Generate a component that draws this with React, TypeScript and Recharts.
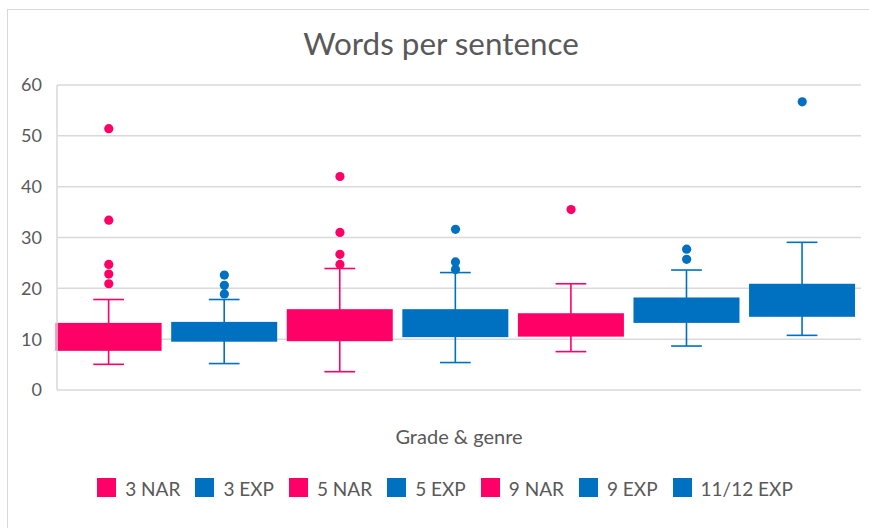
import React from 'react';
import { ComposedChart, Bar, Scatter, XAxis, YAxis, CartesianGrid } from 'recharts';

const W = 869;
const H = 528;
const PINK = '#FF0066';
const BLUE = '#0070C0';
const TEXT = '#595959';
const GRID = '#d9d9d9';
const FONT = 'Lato, "Open Sans", sans-serif';

// categories and five-number summaries
const categories = ['3 NAR', '3 EXP', '5 NAR', '5 EXP', '9 NAR', '9 EXP', '11/12 EXP'];
const genres = ['NAR', 'EXP', 'NAR', 'EXP', 'NAR', 'EXP', 'EXP'];
const whiskerLow = [5.05, 5.2, 3.6, 5.4, 7.55, 8.65, 10.75];
const quartile1 = [7.7, 9.5, 9.6, 10.4, 10.5, 13.2, 14.4];
const quartile3 = [13.2, 13.4, 15.9, 15.9, 15.1, 18.2, 20.9];
const whiskerHigh = [17.8, 17.8, 23.9, 23.1, 20.9, 23.6, 29.05];
const outliers = [
  [51.4, 33.4, 24.7, 22.8, 20.9],
  [22.6, 20.6, 18.9],
  [42.0, 31.0, 26.7, 24.7],
  [31.6, 25.2, 23.7],
  [35.5],
  [27.7, 25.7],
  [56.7],
];
const yTicks = [0, 10, 20, 30, 40, 50, 60];

const colorOf = (g: string) => (g === 'NAR' ? PINK : BLUE);

const data = categories.map((name, i) => ({
  name,
  genre: genres[i],
  lo: whiskerLow[i],
  q1: quartile1[i],
  q3: quartile3[i],
  hi: whiskerHigh[i],
}));

const outlierPoints = (genre: string) =>
  categories.flatMap((name, i) =>
    genres[i] === genre ? outliers[i].map((v) => ({ name, v })) : []
  );

const narOutliers = outlierPoints('NAR');
const expOutliers = outlierPoints('EXP');

// whisker + box drawn inside the [lo, hi] range bar
function BoxShape(props: any) {
  const { x, y, width, height, payload } = props;
  if (!payload || !height) return null;
  const color = colorOf(payload.genre);
  const span = payload.hi - payload.lo;
  const yOf = (v: number) => y + ((payload.hi - v) / span) * height;
  const cx = x + width / 2;
  const cap = width * 0.29;
  return (
    <g>
      <line x1={cx} x2={cx} y1={yOf(payload.hi)} y2={yOf(payload.lo)} stroke={color} strokeWidth={1.6} />
      <line x1={cx - cap / 2} x2={cx + cap / 2} y1={yOf(payload.hi)} y2={yOf(payload.hi)} stroke={color} strokeWidth={1.6} />
      <line x1={cx - cap / 2} x2={cx + cap / 2} y1={yOf(payload.lo)} y2={yOf(payload.lo)} stroke={color} strokeWidth={1.6} />
      <rect x={x} y={yOf(payload.q3)} width={width} height={yOf(payload.q1) - yOf(payload.q3)} fill={color} />
    </g>
  );
}

const dot = (color: string) => (p: any) => <circle cx={p.cx} cy={p.cy} r={4.6} fill={color} />;

export default function App() {
  return (
    <div style={{ position: 'absolute', left: 0, top: 0, width: W, height: H, overflow: 'hidden', background: '#fff', fontFamily: FONT }}>
      <div style={{ position: 'absolute', left: 7, top: 9, width: 900, height: 600, borderLeft: `1px solid ${GRID}`, borderTop: `1px solid ${GRID}` }} />
      <ComposedChart
        width={W}
        height={H}
        data={data}
        margin={{ top: 85, right: 8, bottom: H - 390, left: 0 }}
        barCategoryGap="4%"
        style={{ position: 'absolute', left: 0, top: 0 }}
      >
        <CartesianGrid vertical={false} stroke={GRID} strokeWidth={1.5} />
        <XAxis dataKey="name" hide allowDuplicatedCategory={false} padding={{ left: -6, right: 1 }} />
        <YAxis
          width={57}
          domain={[0, 60]}
          ticks={yTicks}
          interval={0}
          tickLine={false}
          tickSize={6}
          tickMargin={9}
          axisLine={{ stroke: GRID, strokeWidth: 1.5 }}
          tick={{ fill: TEXT, fontSize: 18, fontFamily: FONT }}
        />
        <Bar dataKey={(d: any) => [d.lo, d.hi]} shape={BoxShape} isAnimationActive={false} />
        <Scatter data={narOutliers} dataKey="v" shape={dot(PINK)} isAnimationActive={false} />
        <Scatter data={expOutliers} dataKey="v" shape={dot(BLUE)} isAnimationActive={false} />
      </ComposedChart>
      <svg width={W} height={H} style={{ position: 'absolute', left: 0, top: 0, pointerEvents: 'none' }}>
        <text x={441} y={55} textAnchor="middle" fill={TEXT} fontSize={31.4} fontFamily={FONT}>
          Words per sentence
        </text>
        <text x={459} y={444} textAnchor="middle" fill={TEXT} fontSize={20} fontFamily={FONT}>
          Grade &amp; genre
        </text>
      </svg>
      <div
        style={{
          position: 'absolute',
          left: 0,
          top: 478,
          width: 890,
          display: 'flex',
          justifyContent: 'center',
          gap: 15,
          color: TEXT,
          fontSize: 19,
          lineHeight: '19px',
        }}
      >
        {categories.map((name, i) => (
          <div key={name} style={{ display: 'flex', alignItems: 'center' }}>
            <span style={{ width: 19, height: 19, background: colorOf(genres[i]), marginRight: 9, display: 'inline-block' }} />
            <span style={{ position: 'relative', top: 1 }}>{name}</span>
          </div>
        ))}
      </div>
    </div>
  );
}
